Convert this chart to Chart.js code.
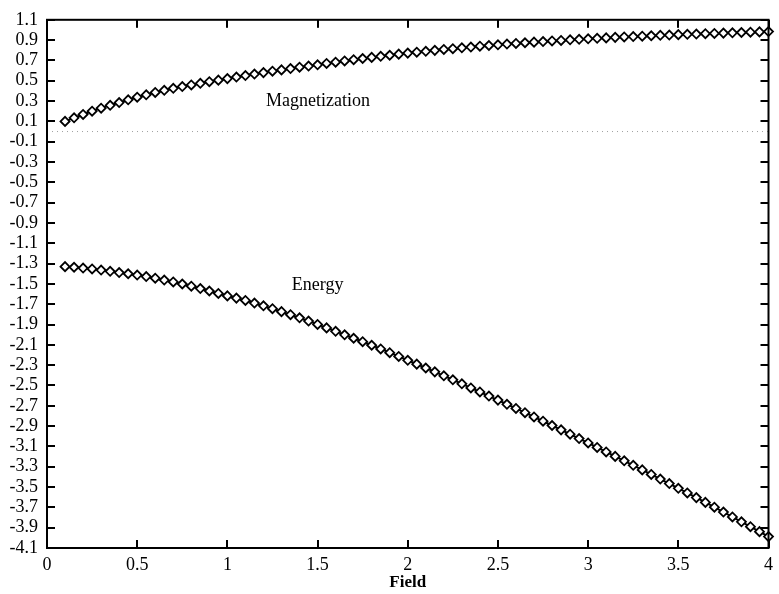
<!DOCTYPE html>
<html>
<head>
<meta charset="utf-8">
<script src="https://cdn.jsdelivr.net/npm/chart.js@4.4.1/dist/chart.umd.min.js"></script>
<style>
html,body{margin:0;padding:0;background:#fff}
</style>
</head>
<body>
<canvas id="chart" width="779" height="594"></canvas>
<script>
// values
const field = [0.1,0.15,0.2,0.25,0.3,0.35,0.4,0.45,0.5,0.55,0.6,0.65,0.7,0.75,0.8,0.85,0.9,0.95,1,1.05,
  1.1,1.15,1.2,1.25,1.3,1.35,1.4,1.45,1.5,1.55,1.6,1.65,1.7,1.75,1.8,1.85,1.9,1.95,2,2.05,
  2.1,2.15,2.2,2.25,2.3,2.35,2.4,2.45,2.5,2.55,2.6,2.65,2.7,2.75,2.8,2.85,2.9,2.95,3,3.05,
  3.1,3.15,3.2,3.25,3.3,3.35,3.4,3.45,3.5,3.55,3.6,3.65,3.7,3.75,3.8,3.85,3.9,3.95,4];

const magnetization = [0.100,0.135,0.168,0.200,0.230,0.258,0.285,0.312,0.338,0.362,0.385,0.406,0.426,0.443,0.459,0.475,0.491,0.506,0.521,0.536,
  0.551,0.566,0.580,0.594,0.607,0.620,0.633,0.645,0.657,0.670,0.683,0.695,0.707,0.719,0.730,0.741,0.751,0.762,0.772,0.781,
  0.790,0.799,0.808,0.816,0.824,0.832,0.840,0.847,0.854,0.861,0.867,0.874,0.880,0.886,0.892,0.897,0.903,0.908,0.913,0.918,
  0.922,0.927,0.931,0.935,0.939,0.943,0.947,0.950,0.954,0.957,0.960,0.963,0.966,0.969,0.972,0.975,0.978,0.981,0.984];

const energy = [-1.330,-1.336,-1.344,-1.353,-1.364,-1.376,-1.388,-1.400,-1.413,-1.428,-1.444,-1.462,-1.481,-1.501,-1.523,-1.546,-1.570,-1.594,-1.618,-1.640,
  -1.663,-1.689,-1.716,-1.744,-1.773,-1.803,-1.834,-1.866,-1.899,-1.933,-1.967,-2.001,-2.035,-2.069,-2.104,-2.140,-2.177,-2.214,-2.252,-2.290,
  -2.328,-2.366,-2.405,-2.444,-2.484,-2.524,-2.564,-2.604,-2.644,-2.685,-2.726,-2.768,-2.810,-2.852,-2.894,-2.937,-2.980,-3.023,-3.066,-3.110,
  -3.154,-3.198,-3.242,-3.286,-3.331,-3.376,-3.421,-3.466,-3.512,-3.558,-3.604,-3.651,-3.698,-3.746,-3.794,-3.842,-3.890,-3.939,-3.988];

const zeroLineX = [0, 4];
const zeroLineY = [0, 0];

const xTicks = [0,0.5,1,1.5,2,2.5,3,3.5,4];
const yTicks = [1.1,0.9,0.7,0.5,0.3,0.1,-0.1,-0.3,-0.5,-0.7,-0.9,-1.1,-1.3,-1.5,-1.7,-1.9,-2.1,-2.3,-2.5,-2.7,-2.9,-3.1,-3.3,-3.5,-3.7,-3.9,-4.1];

const curveLabels = ['Magnetization','Energy'];
const labelX = [1.214, 1.357];
const labelY = [0.297, -1.509];

const serif = '"Liberation Serif", "Times New Roman", serif';

function pts(xs, ys){ return xs.map((x,i)=>({x, y:ys[i]})); }

const curveStyle = {
  borderColor:'#000', borderWidth:2, pointStyle:'rectRot', pointRadius:4.5,
  pointBackgroundColor:'#fff', pointBorderColor:'#000', pointBorderWidth:1.8,
  tension:0, clip:false
};

// gnuplot style frame with inward ticks and the two curve names
const framePlugin = {
  id:'frame',
  afterDraw(chart){
    const ctx = chart.ctx;
    const a = chart.chartArea;
    const x = chart.scales.x, y = chart.scales.y;
    ctx.save();
    ctx.globalAlpha = 1;
    ctx.setLineDash([]);
    ctx.fillStyle = '#000';
    ctx.strokeStyle = '#000';
    ctx.lineWidth = 2;
    yTicks.forEach(v=>{
      const py = Math.round(y.getPixelForValue(v));
      ctx.fillRect(a.left, py-1, 8, 2);
      ctx.fillRect(a.right-8, py-1, 8, 2);
    });
    xTicks.forEach(v=>{
      const px = Math.round(x.getPixelForValue(v));
      ctx.fillRect(px-1, a.bottom-8, 2, 8);
      ctx.fillRect(px-1, a.top, 2, 8);
    });
    ctx.strokeRect(a.left, a.top, a.right-a.left, a.bottom-a.top);

    ctx.font = '18px ' + serif;
    ctx.textAlign = 'left';
    ctx.textBaseline = 'middle';
    curveLabels.forEach((txt,i)=>{
      ctx.fillText(txt, x.getPixelForValue(labelX[i]), y.getPixelForValue(labelY[i]));
    });
    ctx.restore();
  }
};

new Chart(document.getElementById('chart'), {
  type:'line',
  data:{
    datasets:[
      {label:'Zero', data:pts(zeroLineX, zeroLineY), borderColor:'#a0a0a0', borderWidth:1, borderDash:[1,4], pointRadius:0},
      {label:'Magnetization', data:pts(field, magnetization), ...curveStyle},
      {label:'Energy', data:pts(field, energy), ...curveStyle}
    ]
  },
  options:{
    responsive:false,
    animation:false,
    layout:{padding:{top:12, right:7, left:0, bottom:0}},
    plugins:{legend:{display:false}, tooltip:{enabled:false}},
    scales:{
      x:{
        type:'linear', min:0, max:4,
        afterBuildTicks:s=>{ s.ticks = xTicks.map(v=>({value:v})); },
        afterFit:s=>{ s.height = 46; },
        grid:{display:false, drawTicks:false},
        border:{display:false},
        ticks:{autoSkip:false, maxRotation:0, padding:6, color:'#000', font:{family:serif, size:18}, callback:v=>String(v)},
        title:{display:true, text:'Field', color:'#000', font:{family:serif, size:17, weight:'bold'}, padding:{top:0, bottom:1}}
      },
      y:{
        type:'linear', min:-4.1, max:1.1,
        afterBuildTicks:s=>{ s.ticks = yTicks.map(v=>({value:v})); },
        afterFit:s=>{ s.width = 47; },
        grid:{display:false, drawTicks:false},
        border:{display:false},
        ticks:{autoSkip:false, padding:9, color:'#000', font:{family:serif, size:18}, callback:v=>Number(v).toFixed(1)}
      }
    }
  },
  plugins:[framePlugin]
});
</script>
</body>
</html>
